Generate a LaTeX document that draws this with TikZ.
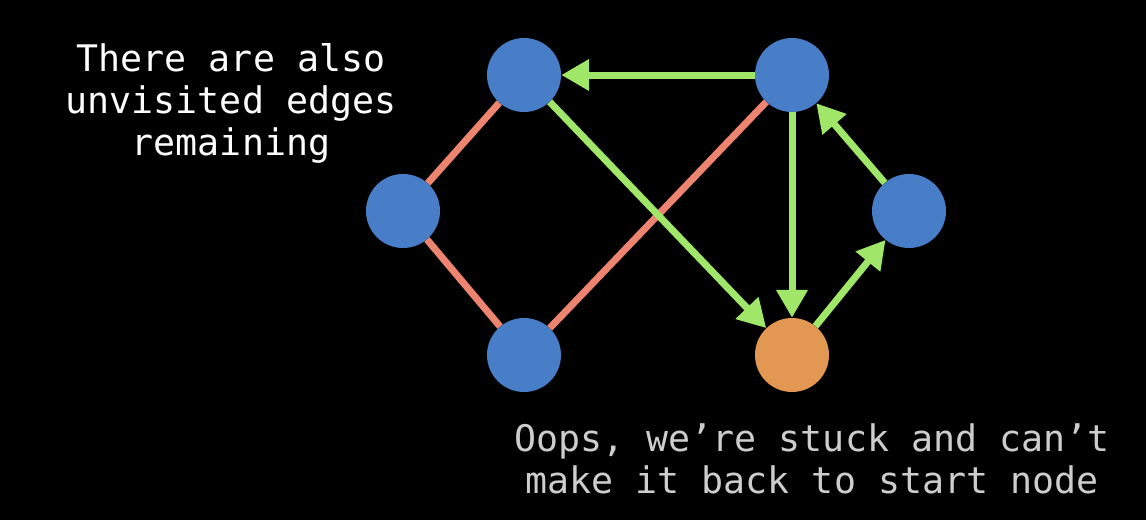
\documentclass[tikz,border=0pt]{standalone}
\usepackage{fontspec}
\setmonofont{DejaVu Sans Mono}
\usetikzlibrary{arrows.meta}
\definecolor{nodeblue}{RGB}{72,126,200}
\definecolor{nodeorange}{RGB}{226,152,82}
\definecolor{edgegreen}{RGB}{160,230,104}
\definecolor{edgered}{RGB}{236,132,112}
\definecolor{textgray}{RGB}{205,205,205}
\begin{document}
\begin{tikzpicture}[x=1pt,y=-1pt,
  vert/.style={circle,fill=nodeblue,minimum size=74pt,inner sep=0pt},
  cur/.style={circle,fill=nodeorange,minimum size=74pt,inner sep=0pt},
  redge/.style={draw=edgered,line width=7pt},
  gedge/.style={draw=edgegreen,line width=7pt,-{Triangle[length=28pt,width=30pt]}},
  lbl/.style={font=\ttfamily\fontsize{36.6}{42}\selectfont,align=center}]
\fill[black] (0,0) rectangle (1146,520);
\useasboundingbox (0,0) rectangle (1146,520);
\node[vert] (tl) at (524,75) {};
\node[vert] (tr) at (792,75) {};
\node[vert] (l) at (403,211) {};
\node[vert] (r) at (909,211) {};
\node[vert] (bl) at (524,355) {};
\node[cur] (br) at (792,355) {};
\path[redge] (tl) -- (l);
\path[redge] (l) -- (bl);
\path[redge] (bl) -- (tr);
\path[gedge] (tr) -- (tl);
\path[gedge] (tl) -- (br);
\path[gedge] (tr) -- (br);
\path[gedge] (br) -- (r);
\path[gedge] (r) -- (tr);
\node[lbl,text=white] (t1) at (231,103) {There are also\\unvisited edges\\remaining};
\node[lbl,text=textgray] (t2) at (812,459) {Oops, we’re stuck and can’t\\make it back to start node};
\end{tikzpicture}
\end{document}
